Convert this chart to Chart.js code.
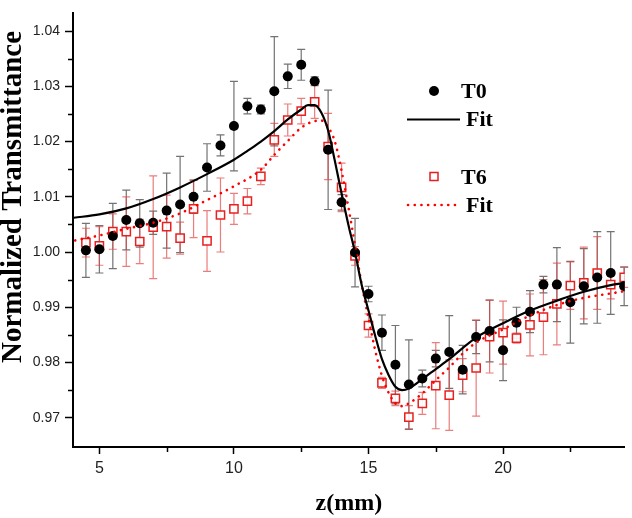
<!DOCTYPE html>
<html>
<head>
<meta charset="utf-8">
<script src="https://cdn.jsdelivr.net/npm/chart.js@4.4.1/dist/chart.umd.min.js"></script>
<style>
html,body{margin:0;padding:0;background:#fff;}
#wrap{width:632px;height:518px;position:relative;}
</style>
</head>
<body>
<div id="wrap"><canvas id="c" width="632" height="518"></canvas></div>
<script>
// ---- data ----
const zPos = [4.5,5,5.5,6,6.5,7,7.5,8,8.5,9,9.5,10,10.5,11,11.5,12,12.5,13,13.5,14,14.5,15,15.5,16,16.5,17,17.5,18,18.5,19,19.5,20,20.5,21,21.5,22,22.5,23,23.5,24,24.5];
const t0Values = [1.0003,1.0005,1.0029,1.0058,1.0052,1.0053,1.0075,1.0086,1.0100,1.0153,1.0193,1.0228,1.0264,1.0258,1.0291,1.0318,1.0339,1.0309,1.0185,1.0090,0.9999,0.9924,0.9854,0.9796,0.9760,0.9771,0.9807,0.9819,0.9787,0.9846,0.9857,0.9822,0.9872,0.9892,0.9941,0.9941,0.9909,0.9938,0.9954,0.9962,0.9938];
const t0Errors = [0.0049,0.0043,0.0059,0.0054,0.0043,0.0021,0.0068,0.0087,0.0030,0.0043,0.0019,0.0081,0.0014,0.0008,0.0099,0.0022,0.0028,0.0008,0.0108,0.0014,0.0062,0.0014,0.0032,0.0071,0.0081,0.0015,0.0015,0.0066,0.0044,0.0030,0.0056,0.0055,0.0028,0.0038,0.0015,0.0067,0.0074,0.0068,0.0083,0.0075,0.0035];
const t6Values = [1.0017,1.0011,1.0037,1.0037,1.0019,1.0045,1.0046,1.0025,1.0078,1.0020,1.0067,1.0078,1.0092,1.0137,1.0203,1.0239,1.0255,1.0272,1.0191,1.0117,0.9993,0.9867,0.9763,0.9735,0.9701,0.9726,0.9758,0.9741,0.9777,0.9790,0.9847,0.9854,0.9844,0.9868,0.9882,0.9906,0.9939,0.9944,0.9962,0.9941,0.9954];
const t6Errors = [0.0026,0.0035,0.0032,0.0063,0.0040,0.0093,0.0057,0.0029,0.0052,0.0055,0.0067,0.0028,0.0023,0.0015,0.0030,0.0029,0.0023,0.0030,0.0060,0.0044,0.0017,0.0021,0.0010,0.0013,0.0021,0.0020,0.0078,0.0064,0.0030,0.0087,0.0066,0.0057,0.0009,0.0056,0.0068,0.0074,0.0043,0.0065,0.0066,0.0026,0.0018];

const fitT0Z = [4.05,5,6,7,8,9,10,10.5,11,11.5,12,12.5,12.75,13,13.25,13.5,13.75,14,14.25,14.5,14.75,15,15.25,15.5,15.75,16,16.25,16.5,17,17.5,18,19,20,21,22,23,24,24.5];
const fitT0Values = [1.0062,1.0068,1.0079,1.0096,1.0117,1.0141,1.0167,1.0183,1.0200,1.0219,1.0240,1.0258,1.0266,1.0266,1.0252,1.0220,1.0165,1.0106,1.0050,0.9999,0.9940,0.9894,0.9848,0.9806,0.9777,0.9756,0.9750,0.9753,0.9770,0.9788,0.9806,0.9845,0.9871,0.9894,0.9912,0.9928,0.9940,0.9944];
const fitT6Z = [4.1,5,6,7,8,9,10,11,11.5,12,12.5,13,13.25,13.5,13.75,14,14.25,14.5,14.75,15,15.25,15.5,15.75,16,16.25,16.5,17,17.5,18,18.5,19,20,21,22,23,24,24.5];
const fitT6Values = [1.0021,1.0030,1.0042,1.0053,1.0070,1.0094,1.0119,1.0149,1.0176,1.0201,1.0225,1.0237,1.0238,1.0226,1.0200,1.0147,1.0082,1.0012,0.9941,0.9880,0.9822,0.9776,0.9745,0.9726,0.9721,0.9726,0.9744,0.9768,0.9791,0.9816,0.9836,0.9860,0.9885,0.9904,0.9917,0.9925,0.9929];

const yMajorTicks = [0.97,0.98,0.99,1.00,1.01,1.02,1.03,1.04];
const yMinorTicks = [0.975,0.985,0.995,1.005,1.015,1.025,1.035];
const xMajorTicks = [5,10,15,20];
const xMinorTicks = [7.5,12.5,17.5,22.5];
const legendLabels = ['T0','Fit','T6','Fit'];
const xTitle = 'z(mm)';
const yTitle = 'Normalized Transmittance';

const pts = (xs, ys) => xs.map((v,i)=>({x:v,y:ys[i]}));

const errorBars = {
  id:'errorBars',
  beforeDatasetsDraw(chart){
    const {ctx, scales:{x,y}} = chart;
    const draw = (vals, errs, color) => {
      ctx.save();
      ctx.strokeStyle = color; ctx.lineWidth = 1.2;
      zPos.forEach((z,i)=>{
        const px = x.getPixelForValue(z);
        const top = y.getPixelForValue(vals[i]+errs[i]);
        const bot = y.getPixelForValue(vals[i]-errs[i]);
        ctx.beginPath();
        ctx.moveTo(px,top); ctx.lineTo(px,bot);
        ctx.moveTo(px-4,top); ctx.lineTo(px+4,top);
        ctx.moveTo(px-4,bot); ctx.lineTo(px+4,bot);
        ctx.stroke();
      });
      ctx.restore();
    };
    draw(t0Values, t0Errors, 'rgba(90,90,90,0.85)');
    draw(t6Values, t6Errors, 'rgba(225,70,70,0.7)');
  }
};

const extras = {
  id:'extras',
  afterDraw(chart){
    const {ctx, scales:{x,y}, chartArea:a} = chart;
    ctx.save();
    ctx.strokeStyle = '#000'; ctx.lineWidth = 1.5;
    yMinorTicks.forEach(v=>{
      const py = Math.round(y.getPixelForValue(v))+0.5;
      ctx.beginPath(); ctx.moveTo(a.left,py); ctx.lineTo(a.left-5,py); ctx.stroke();
    });
    xMinorTicks.forEach(v=>{
      const px = Math.round(x.getPixelForValue(v))+0.5;
      ctx.beginPath(); ctx.moveTo(px,a.bottom); ctx.lineTo(px,a.bottom+5); ctx.stroke();
    });
    // y title
    ctx.fillStyle = '#000';
    ctx.font = 'bold 29px "Liberation Serif", "Times New Roman", serif';
    ctx.textAlign = 'center'; ctx.textBaseline = 'middle';
    ctx.translate(14, 197);
    ctx.rotate(-Math.PI/2);
    ctx.fillText(yTitle, 0, 0);
    ctx.restore();

    // legend
    ctx.save();
    ctx.font = 'bold 22px "Liberation Serif", "Times New Roman", serif';
    ctx.textAlign = 'left'; ctx.textBaseline = 'middle';
    ctx.fillStyle = '#000';
    ctx.beginPath(); ctx.arc(434,91,5,0,Math.PI*2); ctx.fill();
    ctx.fillText(legendLabels[0], 461, 92);
    ctx.strokeStyle = '#000'; ctx.lineWidth = 2.2;
    ctx.beginPath(); ctx.moveTo(407,119.5); ctx.lineTo(460,119.5); ctx.stroke();
    ctx.fillText(legendLabels[1], 466, 120);
    ctx.strokeStyle = '#e02020'; ctx.lineWidth = 1.5;
    ctx.fillStyle = '#fff';
    ctx.fillRect(430,172.5,8,8); ctx.strokeRect(430,172.5,8,8);
    ctx.fillStyle = '#000';
    ctx.fillText(legendLabels[2], 461, 178);
    ctx.strokeStyle = '#ff0000'; ctx.lineWidth = 2.6; ctx.lineCap = 'round';
    ctx.setLineDash([0.1,6.6]);
    ctx.beginPath(); ctx.moveTo(408,205); ctx.lineTo(456,205); ctx.stroke();
    ctx.setLineDash([]);
    ctx.fillText(legendLabels[3], 466, 206);
    ctx.restore();
  }
};

new Chart(document.getElementById('c'), {
  type:'scatter',
  data:{
    datasets:[
      {label:'T6', data:pts(zPos,t6Values), pointStyle:'rect', pointRadius:5.8, pointBorderWidth:1.5,
       pointBorderColor:'#e82020', pointBackgroundColor:'rgba(255,255,255,0.9)', showLine:false, order:4},
      {label:'T0', data:pts(zPos,t0Values), pointStyle:'circle', pointRadius:5, pointBorderWidth:0,
       pointBackgroundColor:'#000', pointBorderColor:'#000', showLine:false, order:3},
      {label:'Fit T6', data:pts(fitT6Z,fitT6Values), showLine:true, pointRadius:0, borderColor:'#ff0000',
       borderWidth:2.6, borderDash:[0.1,6.6], borderCapStyle:'round', cubicInterpolationMode:'monotone', order:2},
      {label:'Fit T0', data:pts(fitT0Z,fitT0Values), showLine:true, pointRadius:0, borderColor:'#000',
       borderWidth:2.2, cubicInterpolationMode:'monotone', order:1}
    ]
  },
  options:{
    responsive:false, animation:false,
    layout:{padding:{top:2,right:7,left:0,bottom:0}},
    plugins:{legend:{display:false}, tooltip:{enabled:false}},
    scales:{
      x:{
        type:'linear', min:4.02, max:24.52,
        border:{display:true,color:'#000',width:2},
        grid:{display:true,drawOnChartArea:false,drawTicks:true,tickLength:7,tickColor:'#000',tickWidth:1.5},
        afterBuildTicks(s){ s.ticks = xMajorTicks.map(v=>({value:v})); },
        ticks:{color:'#222',font:{family:'"Liberation Sans", Arial, sans-serif',size:16},padding:5,maxRotation:0},
        title:{display:true,text:xTitle,color:'#000',font:{family:'"Liberation Serif", "Times New Roman", serif',size:24,weight:'bold'},padding:{top:4,bottom:0}},
        afterFit(s){ s.height = 71; }
      },
      y:{
        type:'linear', min:0.9647, max:1.0432,
        border:{display:true,color:'#000',width:2},
        grid:{display:true,drawOnChartArea:false,drawTicks:true,tickLength:8,tickColor:'#000',tickWidth:1.5},
        afterBuildTicks(s){ s.ticks = yMajorTicks.map(v=>({value:v})); },
        ticks:{color:'#222',font:{family:'"Liberation Sans", Arial, sans-serif',size:14},padding:5,
          callback:(v)=>Number(v).toFixed(2)},
        afterFit(s){ s.width = 73; }
      }
    }
  },
  plugins:[errorBars, extras]
});
</script>
</body>
</html>
